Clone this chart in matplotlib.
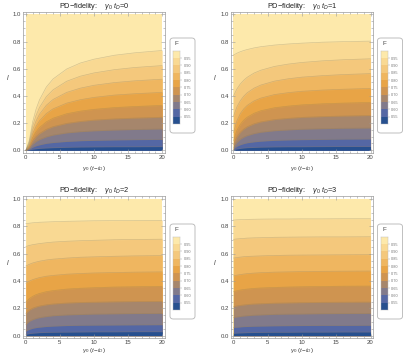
import numpy as np
import matplotlib
matplotlib.use("Agg")
import matplotlib.pyplot as plt
from matplotlib.colors import ListedColormap, BoundaryNorm
from matplotlib.patches import FancyBboxPatch

plt.rcParams["font.family"] = ["Liberation Sans", "DejaVu Sans"]
plt.rcParams["mathtext.fontset"] = "custom"
plt.rcParams["mathtext.rm"] = "Liberation Sans"
plt.rcParams["mathtext.it"] = "Liberation Sans:italic"

# fidelity values of the contour lines
LEVELS = [0.55, 0.60, 0.65, 0.70, 0.75, 0.80, 0.85, 0.90, 0.95]
BOUNDS = [0.50, 0.55, 0.60, 0.65, 0.70, 0.75, 0.80, 0.85, 0.90, 0.95, 1.00]
T_D = [0, 1, 2, 3]

# gamma0 (t - tD) positions at which the contour lines were read
X = [0, 0.5, 1, 1.5, 2, 3, 4, 6, 8, 10, 13, 16, 20]

# l value of each contour line (one row per level, low to high)
L_TD0 = [
    [0, 0.003, 0.008, 0.011, 0.014, 0.017, 0.019, 0.022, 0.024, 0.025, 0.026, 0.026, 0.027],
    [0, 0.008, 0.023, 0.033, 0.040, 0.051, 0.057, 0.065, 0.070, 0.073, 0.076, 0.078, 0.080],
    [0, 0.016, 0.045, 0.065, 0.079, 0.099, 0.112, 0.128, 0.137, 0.143, 0.149, 0.153, 0.157],
    [0, 0.024, 0.069, 0.100, 0.123, 0.154, 0.174, 0.198, 0.212, 0.222, 0.231, 0.237, 0.243],
    [0, 0.033, 0.094, 0.136, 0.167, 0.209, 0.236, 0.269, 0.288, 0.301, 0.314, 0.322, 0.330],
    [0, 0.043, 0.122, 0.176, 0.216, 0.270, 0.305, 0.347, 0.372, 0.389, 0.406, 0.416, 0.426],
    [0, 0.052, 0.150, 0.216, 0.265, 0.331, 0.374, 0.426, 0.457, 0.478, 0.498, 0.511, 0.523],
    [0, 0.062, 0.178, 0.257, 0.315, 0.394, 0.445, 0.508, 0.545, 0.569, 0.593, 0.609, 0.623],
    [0, 0.073, 0.210, 0.303, 0.371, 0.465, 0.525, 0.598, 0.642, 0.670, 0.699, 0.717, 0.734],
]
L_TD1 = [
    [0.004, 0.010, 0.014, 0.017, 0.019, 0.021, 0.023, 0.025, 0.026, 0.026, 0.027, 0.028, 0.028],
    [0.010, 0.030, 0.041, 0.049, 0.055, 0.062, 0.067, 0.073, 0.076, 0.078, 0.080, 0.082, 0.083],
    [0.020, 0.059, 0.082, 0.097, 0.108, 0.123, 0.133, 0.144, 0.150, 0.155, 0.159, 0.162, 0.164],
    [0.040, 0.098, 0.133, 0.156, 0.173, 0.195, 0.209, 0.226, 0.235, 0.242, 0.248, 0.252, 0.256],
    [0.070, 0.146, 0.191, 0.222, 0.243, 0.272, 0.291, 0.313, 0.325, 0.334, 0.342, 0.347, 0.352],
    [0.130, 0.217, 0.270, 0.305, 0.330, 0.363, 0.384, 0.410, 0.424, 0.434, 0.443, 0.449, 0.455],
    [0.250, 0.319, 0.365, 0.398, 0.423, 0.457, 0.480, 0.509, 0.526, 0.538, 0.549, 0.557, 0.564],
    [0.400, 0.451, 0.488, 0.515, 0.537, 0.568, 0.589, 0.617, 0.634, 0.646, 0.658, 0.666, 0.673],
    [0.700, 0.714, 0.725, 0.734, 0.741, 0.753, 0.762, 0.774, 0.782, 0.788, 0.795, 0.799, 0.803],
]
L_TD2 = [
    [0.010, 0.015, 0.018, 0.020, 0.022, 0.024, 0.025, 0.026, 0.027, 0.028, 0.028, 0.029, 0.029],
    [0.034, 0.046, 0.054, 0.059, 0.062, 0.067, 0.070, 0.074, 0.076, 0.077, 0.078, 0.079, 0.080],
    [0.083, 0.105, 0.117, 0.126, 0.132, 0.140, 0.146, 0.152, 0.155, 0.158, 0.160, 0.162, 0.163],
    [0.163, 0.187, 0.201, 0.210, 0.217, 0.226, 0.232, 0.239, 0.243, 0.245, 0.248, 0.250, 0.251],
    [0.246, 0.271, 0.288, 0.300, 0.309, 0.322, 0.330, 0.341, 0.347, 0.351, 0.356, 0.358, 0.361],
    [0.383, 0.399, 0.410, 0.418, 0.425, 0.435, 0.441, 0.450, 0.455, 0.459, 0.462, 0.465, 0.467],
    [0.510, 0.522, 0.532, 0.539, 0.545, 0.554, 0.560, 0.568, 0.574, 0.577, 0.581, 0.584, 0.586],
    [0.653, 0.660, 0.666, 0.670, 0.674, 0.680, 0.685, 0.691, 0.695, 0.698, 0.702, 0.704, 0.706],
    [0.820, 0.823, 0.826, 0.828, 0.830, 0.832, 0.834, 0.837, 0.839, 0.841, 0.842, 0.843, 0.844],
]
L_TD3 = [
    [0.017, 0.019, 0.020, 0.021, 0.022, 0.023, 0.024, 0.025, 0.025, 0.026, 0.026, 0.027, 0.027],
    [0.059, 0.062, 0.064, 0.066, 0.067, 0.069, 0.070, 0.072, 0.073, 0.074, 0.075, 0.075, 0.076],
    [0.132, 0.137, 0.141, 0.144, 0.146, 0.150, 0.152, 0.156, 0.158, 0.159, 0.161, 0.162, 0.163],
    [0.212, 0.218, 0.222, 0.225, 0.228, 0.232, 0.234, 0.238, 0.240, 0.242, 0.244, 0.245, 0.246],
    [0.322, 0.329, 0.334, 0.338, 0.341, 0.346, 0.349, 0.353, 0.356, 0.358, 0.360, 0.362, 0.363],
    [0.437, 0.443, 0.447, 0.451, 0.454, 0.458, 0.461, 0.465, 0.467, 0.469, 0.471, 0.472, 0.473],
    [0.568, 0.572, 0.575, 0.578, 0.580, 0.582, 0.584, 0.587, 0.589, 0.590, 0.591, 0.592, 0.593],
    [0.705, 0.708, 0.710, 0.712, 0.714, 0.716, 0.717, 0.720, 0.721, 0.722, 0.723, 0.723, 0.724],
    [0.846, 0.848, 0.849, 0.850, 0.851, 0.852, 0.853, 0.854, 0.854, 0.855, 0.855, 0.856, 0.856],
]

# band colours, from F < 0.55 up to F > 0.95
BAND_COLOURS = ["#27508f", "#5467a4", "#817a8b", "#a6866c", "#cf9450",
                "#e8a446", "#efb660", "#f4c87c", "#f9d993", "#fde9ab"]
LINE_COLOUR = (0.55, 0.48, 0.35, 0.35)
FRAME_COLOUR = "#9a9a9a"
TEXT_COLOUR = "#444444"

# axes frames in pixels (left, top, right, bottom) of a 407x358 figure
W, H = 407, 358
FRAMES = [(23, 11.6, 165, 153), (230.6, 11.6, 373.4, 153),
          (23, 196.3, 165, 338.4), (230.6, 196.3, 373.4, 338.4)]


def frac(left, top, right, bottom):
    return [left / W, 1 - bottom / H, (right - left) / W, (bottom - top) / H]


def draw_panel(ax, lines, td, xlabelpad):
    x = np.array(X)
    lines = np.array(lines)
    uppers = list(lines) + [np.ones_like(x)]
    # paint bands from the top down so there are no seams between them
    for colour, upper in reversed(list(zip(BAND_COLOURS, uppers))):
        ax.fill_between(x, 0, upper, color=colour, lw=0)
    for row in lines:
        ax.plot(x, row, color=LINE_COLOUR, lw=0.5)

    ax.set_xlim(-0.42, 20.42)
    ax.set_ylim(-0.02, 1.02)
    ax.set_xticks([0, 5, 10, 15, 20])
    ax.set_xticks(np.arange(0, 21, 1), minor=True)
    ax.set_yticks([0.0, 0.2, 0.4, 0.6, 0.8, 1.0])
    ax.set_yticks(np.arange(0, 1.01, 0.05), minor=True)
    ax.set_yticklabels(["0.0", "0.2", "0.4", "0.6", "0.8", "1.0"])
    ax.tick_params(which="both", direction="in", top=True, right=True,
                   colors=FRAME_COLOUR, labelcolor=TEXT_COLOUR, labelsize=4.3,
                   width=0.4, pad=1.2)
    ax.tick_params(which="major", length=3)
    ax.tick_params(which="minor", length=1.6)
    for s in ax.spines.values():
        s.set_color(FRAME_COLOUR)
        s.set_linewidth(0.5)
    ax.set_xlabel(r"$\gamma_0$ ($t$$-$$t_D$)", fontsize=4.6, color=TEXT_COLOUR,
                  labelpad=xlabelpad)
    ax.set_ylabel(r"$l$", fontsize=5, color=TEXT_COLOUR, rotation=0, labelpad=4)
    ax.set_title(r"PD$-$fidelity:    $\gamma_0\ t_D$=%d" % td, fontsize=5.3,
                 color="#222222", pad=2.5)


def draw_legend(fig, left, top):
    # rounded box, F label and a colour bar with the contour levels
    box = FancyBboxPatch((left / W, 1 - (top + 95) / H), 25 / W, 95 / H,
                         boxstyle="round,pad=0,rounding_size=0.008",
                         transform=fig.transFigure, facecolor="white",
                         edgecolor="#b5b5b5", lw=0.6, zorder=-1)
    fig.patches.append(box)
    fig.text((left + 6.7) / W, 1 - (top + 5.5) / H, "F", fontsize=4.5,
             color=TEXT_COLOUR, ha="center", va="center")
    cax = fig.add_axes(frac(left + 3.3, top + 12.7, left + 10, top + 86))
    cmap = ListedColormap(BAND_COLOURS)
    norm = BoundaryNorm(BOUNDS, len(BAND_COLOURS))
    mids = np.array([(a + b) / 2 for a, b in zip(BOUNDS[:-1], BOUNDS[1:])])
    cax.pcolormesh([0, 1], BOUNDS, mids[:, None], cmap=cmap, norm=norm)
    cax.set_xlim(0, 1)
    cax.set_ylim(BOUNDS[0], BOUNDS[-1])
    cax.set_xticks([])
    cax.yaxis.tick_right()
    cax.set_yticks(LEVELS)
    cax.set_yticklabels(["%.2f" % v for v in LEVELS])
    cax.tick_params(labelsize=2.8, length=1.5, width=0.3, colors="#9a9a9a",
                    labelcolor="#777777", pad=1)
    for s in cax.spines.values():
        s.set_linewidth(0.3)
        s.set_edgecolor("#bbbbbb")


fig = plt.figure(figsize=(W / 100, H / 100), dpi=100)
for i, (frame, lines, td) in enumerate(zip(FRAMES, [L_TD0, L_TD1, L_TD2, L_TD3], T_D)):
    ax = fig.add_axes(frac(*frame))
    draw_panel(ax, lines, td, 3 if i < 2 else 0.5)

draw_legend(fig, 170, 38)
draw_legend(fig, 377.5, 38)
draw_legend(fig, 170, 224)
draw_legend(fig, 377.5, 224)

fig.savefig("out.png", dpi=100, facecolor="white")
